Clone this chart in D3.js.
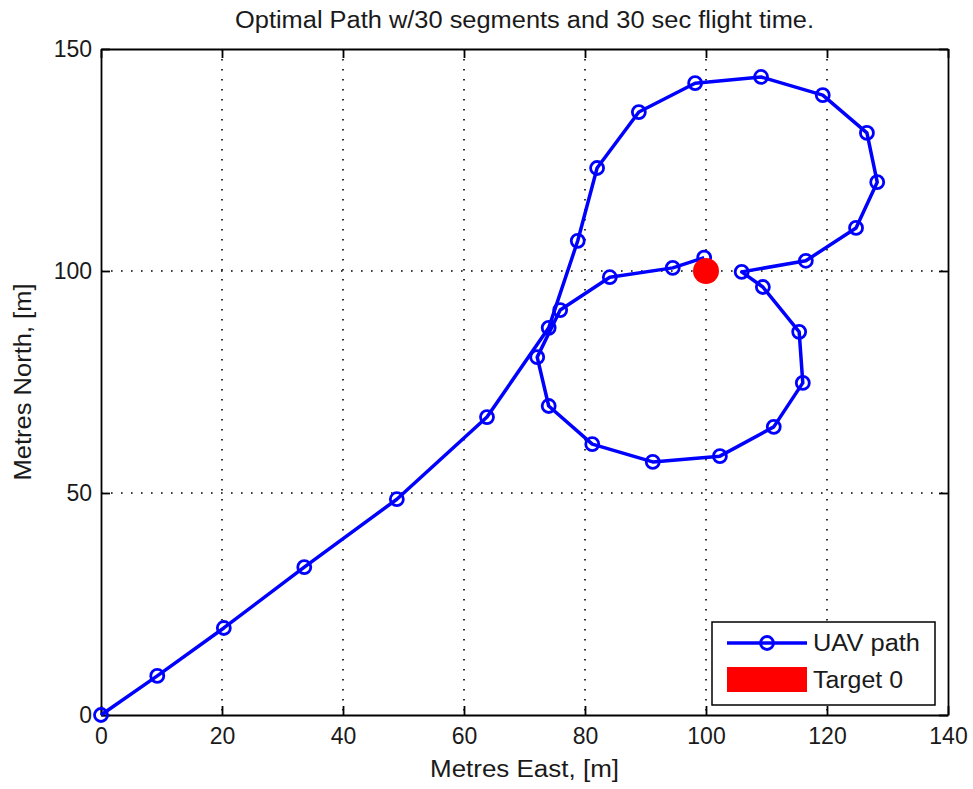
<!DOCTYPE html>
<html>
<head>
<meta charset="utf-8">
<script src="https://cdn.jsdelivr.net/npm/d3@7"></script>
<style>
  body { margin: 0; background: #fff; }
  text { font-family: "Liberation Sans", Arial, sans-serif; fill: #1a1a1a; }
  .axis path, .axis line { stroke: #000; stroke-width: 1.8; }
  .grid line { stroke: #000; stroke-width: 1.6; stroke-dasharray: 1.6, 8.4; }
</style>
</head>
<body>
<div id="chart"></div>
<script>
// UAV path waypoints (metres east / north)
var pathEast = [0, 9.3, 20.3, 33.6, 48.9, 63.8, 74.0, 78.8, 82.0, 88.9, 98.2, 109.1, 119.3, 126.6, 128.3, 124.8, 116.5, 105.9,
  109.4, 115.4, 116.0, 111.2, 102.3, 91.2, 81.2, 74.0, 72.1, 75.9, 84.1, 94.5, 99.7];
var pathNorth = [0, 8.8, 19.6, 33.3, 48.6, 67.1, 87.2, 106.8, 123.2, 135.8, 142.3, 143.7, 139.6, 131.1, 120.0, 109.7, 102.3, 99.8,
  96.4, 86.3, 74.8, 64.9, 58.3, 57.0, 61.0, 69.6, 80.6, 91.2, 98.6, 100.7, 103.0];
var targetEast = [100];
var targetNorth = [100];
var xTicks = [0, 20, 40, 60, 80, 100, 120, 140];
var yTicks = [0, 50, 100, 150];
var legendLabels = ["UAV path", "Target 0"];

var W = 973, H = 789;
var margin = { top: 49, right: 25, bottom: 74, left: 101 },
  width = W - margin.left - margin.right,
  height = H - margin.top - margin.bottom;

var xScale = d3.scaleLinear().domain([0, 140]).range([0, width]);
var yScale = d3.scaleLinear().domain([0, 150]).range([height, 0]);

var svg = d3.select("#chart").append("svg")
  .attr("width", W)
  .attr("height", H);

// the original font is wider than Liberation Sans, stretch text to its width
svg.append("text")
  .attr("x", margin.left + width / 2)
  .attr("y", 28)
  .attr("text-anchor", "middle")
  .attr("textLength", 579)
  .attr("lengthAdjust", "spacingAndGlyphs")
  .style("font-size", "23px")
  .text("Optimal Path w/30 segments and 30 sec flight time.");

var g = svg.append("g")
  .attr("transform", "translate(" + margin.left + "," + margin.top + ")");

// dotted grid
g.append("g").attr("class", "grid")
  .selectAll("line.v")
  .data(xTicks.slice(1, -1))
  .enter().append("line")
  .attr("x1", d => xScale(d)).attr("x2", d => xScale(d))
  .attr("y1", 0).attr("y2", height);
g.append("g").attr("class", "grid")
  .selectAll("line.h")
  .data(yTicks.slice(1, -1))
  .enter().append("line")
  .attr("x1", 0).attr("x2", width)
  .attr("y1", d => yScale(d)).attr("y2", d => yScale(d));

// box axes with inward ticks
g.append("g").attr("class", "axis")
  .attr("transform", "translate(0," + height + ")")
  .call(d3.axisBottom(xScale).tickValues(xTicks).tickSizeInner(-9).tickSizeOuter(0).tickPadding(13))
  .selectAll("text").style("font-size", "23px");
g.append("g").attr("class", "axis")
  .call(d3.axisTop(xScale).tickValues(xTicks).tickSizeInner(-9).tickSizeOuter(0).tickFormat(""));
g.append("g").attr("class", "axis")
  .call(d3.axisLeft(yScale).tickValues(yTicks).tickSizeInner(-9).tickSizeOuter(0).tickPadding(9))
  .selectAll("text").style("font-size", "23px");
g.append("g").attr("class", "axis")
  .attr("transform", "translate(" + width + ",0)")
  .call(d3.axisRight(yScale).tickValues(yTicks).tickSizeInner(-9).tickSizeOuter(0).tickFormat(""));
g.selectAll(".axis text").style("fill", "#1a1a1a");

svg.append("text")
  .attr("x", margin.left + width / 2)
  .attr("y", 777)
  .attr("text-anchor", "middle")
  .attr("textLength", 189)
  .attr("lengthAdjust", "spacingAndGlyphs")
  .style("font-size", "23px")
  .text("Metres East, [m]");

svg.append("text")
  .attr("transform", "translate(31," + (margin.top + height / 2) + ")rotate(-90)")
  .attr("text-anchor", "middle")
  .attr("textLength", 197)
  .attr("lengthAdjust", "spacingAndGlyphs")
  .style("font-size", "23px")
  .text("Metres North, [m]");

// UAV path
var pts = pathEast.map((e, i) => [e, pathNorth[i]]);
var line = d3.line()
  .x(d => xScale(d[0]))
  .y(d => yScale(d[1]));

g.append("path")
  .datum(pts)
  .attr("d", line)
  .style("fill", "none")
  .style("stroke", "#0000ff")
  .style("stroke-width", 3.5)
  .style("stroke-linejoin", "round");

g.selectAll(".dot")
  .data(pts)
  .enter().append("circle")
  .attr("class", "dot")
  .attr("cx", d => xScale(d[0]))
  .attr("cy", d => yScale(d[1]))
  .attr("r", 6.5)
  .style("fill", "none")
  .style("stroke", "#0000ff")
  .style("stroke-width", 2.8);

// target
g.selectAll(".target")
  .data(targetEast)
  .enter().append("circle")
  .attr("class", "target")
  .attr("cx", d => xScale(d))
  .attr("cy", (d, i) => yScale(targetNorth[i]))
  .attr("r", 13)
  .style("fill", "#ff0000");

// legend
var lg = svg.append("g").attr("transform", "translate(712,622)");
lg.append("rect")
  .attr("width", 223).attr("height", 83)
  .style("fill", "#fff").style("stroke", "#000").style("stroke-width", 1.5);
lg.append("line")
  .attr("x1", 15).attr("x2", 95).attr("y1", 21).attr("y2", 21)
  .style("stroke", "#0000ff").style("stroke-width", 3.5);
lg.append("circle")
  .attr("cx", 55).attr("cy", 21).attr("r", 6.5)
  .style("fill", "none").style("stroke", "#0000ff").style("stroke-width", 2.8);
lg.append("rect")
  .attr("x", 15).attr("y", 45).attr("width", 80).attr("height", 25)
  .style("fill", "#ff0000");
var legendWidths = [107, 90];
lg.selectAll(".lt")
  .data(legendLabels)
  .enter().append("text")
  .attr("class", "lt")
  .attr("x", 101)
  .attr("y", (d, i) => 29 + i * 37)
  .attr("textLength", (d, i) => legendWidths[i])
  .attr("lengthAdjust", "spacingAndGlyphs")
  .style("font-size", "23px")
  .text(d => d);
</script>
</body>
</html>
